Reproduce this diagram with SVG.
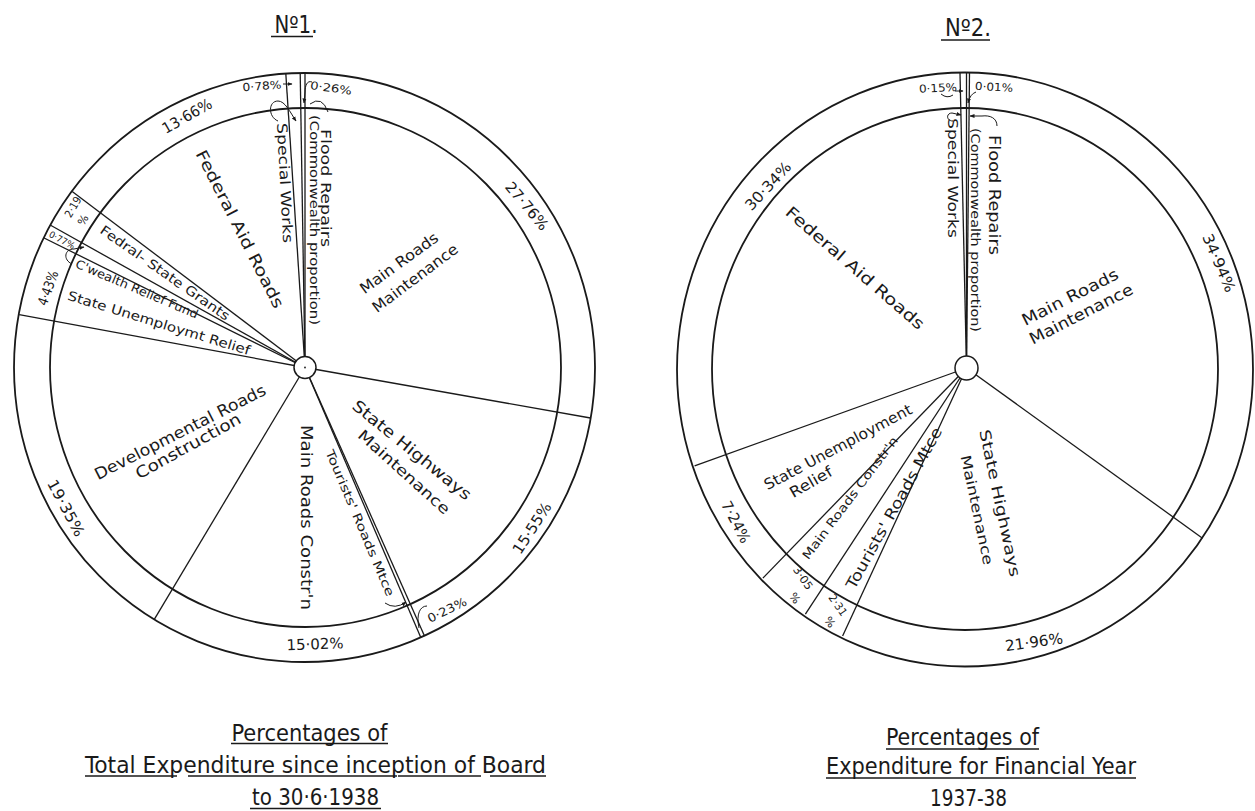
<svg xmlns="http://www.w3.org/2000/svg" width="1255" height="811" viewBox="0 0 1255 811">
<style>
.ring{fill:none;stroke:#1a1a1a;stroke-width:1.8}
.ln{fill:none;stroke:#1a1a1a;stroke-width:1.3}
.ld{fill:none;stroke:#1a1a1a;stroke-width:1}
.hub{fill:#fff;stroke:#1a1a1a;stroke-width:1.5}
.t{font-family:"DejaVu Sans","Liberation Sans",sans-serif;fill:#1a1a1a;text-anchor:middle}
.cap{font-family:"DejaVu Sans Condensed","DejaVu Sans",sans-serif;fill:#1a1a1a;text-anchor:middle;font-size:23px}
.ul{stroke:#1a1a1a;stroke-width:1.4}
</style>
<defs>
<marker id="arr" viewBox="0 0 10 10" refX="9" refY="5" markerWidth="5" markerHeight="5" orient="auto"><path d="M0,1 L10,5 L0,9 z" fill="#1a1a1a"/></marker>
</defs>
<rect width="1255" height="811" fill="#fff"/>

<g id="chart1">
  <g id="chart1-rings">
    <ellipse class="ring" cx="304.5" cy="367.5" rx="290.5" ry="294.5"/>
    <ellipse class="ring" cx="305.5" cy="367.5" rx="255.5" ry="259.5"/>
  </g>
  <g id="chart1-connectors">
    <path class="ln" d="M305,367.5 L305,73"/>
    <path class="ln" d="M305,367.5 L300.2,73"/>
    <path class="ln" d="M305,367.5 L285.8,73.6"/>
    <path class="ln" d="M305,367.5 L72.2,191.4"/>
    <path class="ln" d="M305,367.5 L50.6,225.3"/>
    <path class="ln" d="M305,367.5 L44.1,238"/>
    <path class="ln" d="M305,367.5 L19.2,314.6"/>
    <path class="ln" d="M305,367.5 L154.3,619.3"/>
    <path class="ln" d="M305,367.5 L420.8,637.6"/>
    <path class="ln" d="M305,367.5 L424.5,635.9"/>
    <path class="ln" d="M305,367.5 L590.5,418"/>
    <path class="ld" d="M283,84 L292,84" marker-end="url(#arr)"/>
    <path class="ld" d="M278,121 C268,117 268,101 278,101 C285,101 290,112 296,121" marker-end="url(#arr)"/>
    <path class="ld" d="M312,82 C307,80 305,86 305,92 L304,103" marker-end="url(#arr)"/>
    <path class="ld" d="M310,104 Q322,95 328,112"/>
    <path class="ld" d="M72,264 C63,260 64,249 74,249 L84,247" marker-end="url(#arr)"/>
    <path class="ld" d="M385,603 Q395,610 406,602" marker-end="url(#arr)"/>
    <path class="ld" d="M427,606 C420,606 416,614 419,628"/>
  </g>
  <g id="chart1-hub"><circle class="hub" cx="305" cy="367.5" r="11"/><circle cx="305" cy="367.5" r="0.9" fill="#1a1a1a"/></g>
  <g id="chart1-labels">
    <text class="t" font-size="24" x="296" y="33" textLength="43" lengthAdjust="spacingAndGlyphs">Nº1.</text>
    <line class="ul" x1="271" y1="36.5" x2="313" y2="36.5"/>
    <text class="t" font-size="11" dy="0.35em" transform="translate(262,86) rotate(-4)" textLength="39" lengthAdjust="spacingAndGlyphs">0·78%</text>
    <text class="t" font-size="11" dy="0.35em" transform="translate(331,88) rotate(8)" textLength="42" lengthAdjust="spacingAndGlyphs">0·26%</text>
    <text class="t" font-size="15" dy="0.35em" transform="translate(187,116) rotate(-30)" textLength="55" lengthAdjust="spacingAndGlyphs">13·66%</text>
    <text class="t" font-size="15" dy="0.35em" transform="translate(527,206) rotate(50)" textLength="58" lengthAdjust="spacingAndGlyphs">27·76%</text>
    <text class="t" font-size="16" dy="0.35em" transform="translate(240,229) rotate(63)" textLength="175" lengthAdjust="spacingAndGlyphs">Federal Aid Roads</text>
    <text class="t" font-size="14" dy="0.35em" transform="translate(285,183) rotate(87)" textLength="120" lengthAdjust="spacingAndGlyphs">Special Works</text>
    <text class="t" font-size="14" dy="0.35em" transform="translate(326,188) rotate(90)" textLength="118" lengthAdjust="spacingAndGlyphs">Flood Repairs</text>
    <text class="t" font-size="12" dy="0.35em" transform="translate(314,220) rotate(90)" textLength="210" lengthAdjust="spacingAndGlyphs">(Commonwealth proportion)</text>
    <text class="t" font-size="15" dy="0.35em" transform="translate(399,263) rotate(-36)" textLength="93" lengthAdjust="spacingAndGlyphs">Main Roads</text>
    <text class="t" font-size="15" dy="0.35em" transform="translate(415,278) rotate(-37)" textLength="103" lengthAdjust="spacingAndGlyphs">Maintenance</text>
    <text class="t" font-size="13" dy="0.35em" transform="translate(165,273) rotate(35)" textLength="155" lengthAdjust="spacingAndGlyphs">Fedral- State Grants</text>
    <text class="t" font-size="12" dy="0.35em" transform="translate(137,289) rotate(23)" textLength="132" lengthAdjust="spacingAndGlyphs">C'wealth Relief Fund</text>
    <text class="t" font-size="13" dy="0.35em" transform="translate(159,323) rotate(17)" textLength="190" lengthAdjust="spacingAndGlyphs">State Unemploymt Relief</text>
    <text class="t" font-size="11" dy="0.35em" transform="translate(73,207) rotate(-60)" textLength="22" lengthAdjust="spacingAndGlyphs">2·19</text>
    <text class="t" font-size="11" dy="0.35em" transform="translate(83,220) rotate(-60)">%</text>
    <text class="t" font-size="9" dy="0.35em" transform="translate(62,240) rotate(28)" textLength="28" lengthAdjust="spacingAndGlyphs">0·77%</text>
    <text class="t" font-size="14" dy="0.35em" transform="translate(48,288) rotate(-70)" textLength="36" lengthAdjust="spacingAndGlyphs">4·43%</text>
    <text class="t" font-size="16" dy="0.35em" transform="translate(180,432) rotate(-27)" textLength="190" lengthAdjust="spacingAndGlyphs">Developmental Roads</text>
    <text class="t" font-size="16" dy="0.35em" transform="translate(188,446) rotate(-29)" textLength="118" lengthAdjust="spacingAndGlyphs">Construction</text>
    <text class="t" font-size="16" dy="0.35em" transform="translate(306.5,517.5) rotate(90)" textLength="185" lengthAdjust="spacingAndGlyphs">Main Roads Constr'n</text>
    <text class="t" font-size="12" dy="0.35em" transform="translate(360,523) rotate(67)" textLength="158" lengthAdjust="spacingAndGlyphs">Tourists' Roads Mtce</text>
    <text class="t" font-size="16" dy="0.35em" transform="translate(412,450) rotate(39)" textLength="148" lengthAdjust="spacingAndGlyphs">State Highways</text>
    <text class="t" font-size="15" dy="0.35em" transform="translate(404,472) rotate(42)" textLength="118" lengthAdjust="spacingAndGlyphs">Maintenance</text>
    <text class="t" font-size="15" dy="0.35em" transform="translate(532,528) rotate(-57)" textLength="58" lengthAdjust="spacingAndGlyphs">15·55%</text>
    <text class="t" font-size="12" dy="0.35em" transform="translate(447,610) rotate(-26)" textLength="42" lengthAdjust="spacingAndGlyphs">0·23%</text>
    <text class="t" font-size="15" dy="0.35em" transform="translate(315,644) rotate(-2)" textLength="57" lengthAdjust="spacingAndGlyphs">15·02%</text>
    <text class="t" font-size="15" dy="0.35em" transform="translate(66,508) rotate(62)" textLength="62" lengthAdjust="spacingAndGlyphs">19·35%</text>
  </g>
  <g id="chart1-caption">
    <text class="cap" x="309.5" y="741" textLength="156" lengthAdjust="spacingAndGlyphs">Percentages of</text>
    <line class="ul" x1="231" y1="743.5" x2="388" y2="743.5"/>
    <text class="cap" x="315.5" y="773" textLength="461" lengthAdjust="spacingAndGlyphs">Total Expenditure since inception of Board</text>
    <line class="ul" x1="85" y1="776" x2="177" y2="776"/>
    <line class="ul" x1="188" y1="776" x2="397" y2="776"/>
    <line class="ul" x1="398" y1="776" x2="481" y2="776"/>
    <line class="ul" x1="490" y1="776" x2="546" y2="776"/>
    <text class="cap" x="315.5" y="805" textLength="127" lengthAdjust="spacingAndGlyphs">to  30·6·1938</text>
    <line class="ul" x1="250" y1="808.5" x2="381" y2="808.5"/>
  </g>
</g>

<g id="chart2">
  <g id="chart2-rings">
    <ellipse class="ring" cx="965" cy="369.5" rx="288" ry="297"/>
    <ellipse class="ring" cx="965" cy="369" rx="253" ry="261"/>
  </g>
  <g id="chart2-connectors">
    <path class="ln" d="M966.5,368 L966.5,72.5"/>
    <path class="ln" d="M966.5,368 L960,73"/>
    <path class="ln" d="M966.5,368 L969.5,72.6"/>
    <path class="ln" d="M966.5,368 L1202.5,538.2"/>
    <path class="ln" d="M966.5,368 L842.6,636.1"/>
    <path class="ln" d="M966.5,368 L805.4,614.2"/>
    <path class="ln" d="M966.5,368 L762.9,578.1"/>
    <path class="ln" d="M966.5,368 L694.6,465.9"/>
    <path class="ld" d="M941,94 Q947,99 953,95"/>
    <path class="ld" d="M955,91 L963,91" marker-end="url(#arr)"/>
    <path class="ld" d="M976,92 Q970,94 968,103" marker-end="url(#arr)"/>
    <path class="ld" d="M953,121 C946,121 946,113 952,113 L961,115" marker-end="url(#arr)"/>
    <path class="ld" d="M997,126 C997,118 990,115 982,116 L970,116" marker-end="url(#arr)"/>
  </g>
  <g id="chart2-hub"><ellipse class="hub" cx="966.5" cy="368" rx="11.5" ry="12"/></g>
  <g id="chart2-labels">
    <text class="t" font-size="24" x="968" y="36" textLength="46" lengthAdjust="spacingAndGlyphs">Nº2.</text>
    <line class="ul" x1="941" y1="40" x2="990" y2="40"/>
    <text class="t" font-size="11" dy="0.35em" transform="translate(938,88) rotate(-3)" textLength="38" lengthAdjust="spacingAndGlyphs">0·15%</text>
    <text class="t" font-size="11" dy="0.35em" transform="translate(994,87) rotate(3)" textLength="38" lengthAdjust="spacingAndGlyphs">0·01%</text>
    <text class="t" font-size="15" dy="0.35em" transform="translate(768,186) rotate(-47)" textLength="60" lengthAdjust="spacingAndGlyphs">30·34%</text>
    <text class="t" font-size="15" dy="0.35em" transform="translate(1219,263) rotate(67)" textLength="62" lengthAdjust="spacingAndGlyphs">34·94%</text>
    <text class="t" font-size="14" dy="0.35em" transform="translate(953,178) rotate(90)" textLength="120" lengthAdjust="spacingAndGlyphs">Special Works</text>
    <text class="t" font-size="15" dy="0.35em" transform="translate(994,195) rotate(90)" textLength="120" lengthAdjust="spacingAndGlyphs">Flood Repairs</text>
    <text class="t" font-size="12" dy="0.35em" transform="translate(975,230) rotate(90)" textLength="204" lengthAdjust="spacingAndGlyphs">(Commonwealth proportion)</text>
    <text class="t" font-size="16" dy="0.35em" transform="translate(855,268) rotate(41)" textLength="178" lengthAdjust="spacingAndGlyphs">Federal Aid Roads</text>
    <text class="t" font-size="16" dy="0.35em" transform="translate(1070,297) rotate(-27)" textLength="106" lengthAdjust="spacingAndGlyphs">Main Roads</text>
    <text class="t" font-size="16" dy="0.35em" transform="translate(1081,314) rotate(-27)" textLength="114" lengthAdjust="spacingAndGlyphs">Maintenance</text>
    <text class="t" font-size="15" dy="0.35em" transform="translate(838,447) rotate(-28)" textLength="165" lengthAdjust="spacingAndGlyphs">State Unemployment</text>
    <text class="t" font-size="15" dy="0.35em" transform="translate(811,482) rotate(-30)" textLength="47" lengthAdjust="spacingAndGlyphs">Relief</text>
    <text class="t" font-size="12" dy="0.35em" transform="translate(850,498) rotate(-53)" textLength="150" lengthAdjust="spacingAndGlyphs">Main Roads Constr'n</text>
    <text class="t" font-size="15" dy="0.35em" transform="translate(894,508) rotate(-61)" textLength="182" lengthAdjust="spacingAndGlyphs">Tourists' Roads Mtce</text>
    <text class="t" font-size="15" dy="0.35em" transform="translate(1000,503) rotate(78)" textLength="150" lengthAdjust="spacingAndGlyphs">State Highways</text>
    <text class="t" font-size="14" dy="0.35em" transform="translate(977,510) rotate(78)" textLength="112" lengthAdjust="spacingAndGlyphs">Maintenance</text>
    <text class="t" font-size="15" dy="0.35em" transform="translate(1034,642) rotate(-8)" textLength="58" lengthAdjust="spacingAndGlyphs">21·96%</text>
    <text class="t" font-size="15" dy="0.35em" transform="translate(736,522) rotate(62)" textLength="45" lengthAdjust="spacingAndGlyphs">7·24%</text>
    <text class="t" font-size="11" dy="0.35em" transform="translate(803,578) rotate(55)" textLength="26" lengthAdjust="spacingAndGlyphs">3·05</text>
    <text class="t" font-size="11" dy="0.35em" transform="translate(795,598) rotate(55)">%</text>
    <text class="t" font-size="11" dy="0.35em" transform="translate(838,605) rotate(55)" textLength="24" lengthAdjust="spacingAndGlyphs">2·31</text>
    <text class="t" font-size="11" dy="0.35em" transform="translate(830,622) rotate(55)">%</text>
  </g>
  <g id="chart2-caption">
    <text class="cap" x="962.5" y="745" textLength="153" lengthAdjust="spacingAndGlyphs">Percentages of</text>
    <line class="ul" x1="886" y1="749" x2="1039" y2="749"/>
    <text class="cap" x="981" y="774" textLength="310" lengthAdjust="spacingAndGlyphs">Expenditure for Financial Year</text>
    <line class="ul" x1="826" y1="778" x2="1136" y2="778"/>
    <text class="cap" x="968.5" y="806" textLength="77" lengthAdjust="spacingAndGlyphs">1937-38</text>
  </g>
</g>
</svg>
